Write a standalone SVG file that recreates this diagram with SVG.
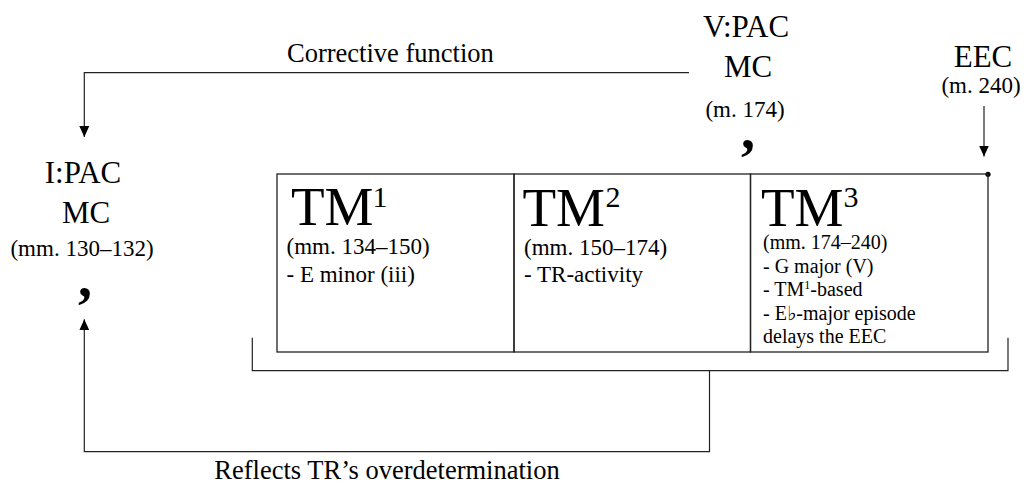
<svg xmlns="http://www.w3.org/2000/svg" width="1027" height="485" viewBox="0 0 1027 485">
<style>
text{font-family:"Liberation Serif","DejaVu Serif",serif;fill:#000}
.lab{font-size:31px;text-anchor:middle}
.ms{font-size:23px;text-anchor:middle}
.tm{font-size:55px}
.sup{font-size:30px}
.sub{font-size:23px}
.sub3{font-size:20px}
.cap{font-size:26.5px}
.brth{font-size:56px;font-weight:bold;text-anchor:middle}
.ln{fill:none;stroke:#222;stroke-width:1.2}
.box{fill:none;stroke:#222;stroke-width:1.3}
</style>
<defs>
<marker id="ah" markerUnits="userSpaceOnUse" markerWidth="12" markerHeight="12" viewBox="0 0 12 12" refX="11" refY="6" orient="auto">
<path d="M0,1 L11,6 L0,11 Z" fill="#000"/>
</marker>
</defs>

<g id="ipac">
<text class="lab" x="83" y="183">I:PAC</text>
<text class="lab" x="86" y="222.5">MC</text>
<text class="ms" x="82" y="256">(mm. 130–132)</text>
<text class="brth" x="85" y="296">,</text>
</g>

<g id="vpac">
<text class="lab" x="746" y="37">V:PAC</text>
<text class="lab" x="748" y="77">MC</text>
<text class="ms" x="745" y="117">(m. 174)</text>
<text class="brth" x="748" y="148">,</text>
</g>

<g id="eec">
<text class="lab" x="983" y="66.5">EEC</text>
<text class="ms" x="981" y="93">(m. 240)</text>
<circle cx="988" cy="174.3" r="2.6" fill="#000"/>
</g>

<g id="tm1">
<rect class="box" x="277" y="174" width="237" height="178"/>
<text class="tm" x="291" y="225">TM</text>
<text class="sup" x="372.5" y="206.5">1</text>
<text class="sub" x="286.5" y="254">(mm. 134–150)</text>
<text class="sub" x="286.5" y="282">- E minor (iii)</text>
</g>

<g id="tm2">
<rect class="box" x="514" y="174" width="236.5" height="178"/>
<text class="tm" x="522.5" y="225.5">TM</text>
<text class="sup" x="605.5" y="206.5">2</text>
<text class="sub" x="524" y="255">(mm. 150–174)</text>
<text class="sub" x="524" y="282">- TR-activity</text>
</g>

<g id="tm3">
<rect class="box" x="750.5" y="174" width="237.5" height="178"/>
<text class="tm" x="761" y="225.5">TM</text>
<text class="sup" x="843.5" y="206.5">3</text>
<text class="sub3" x="763" y="248.5">(mm. 174–240)</text>
<text class="sub3" x="763" y="272.5">- G major (V)</text>
<text class="sub3" x="763" y="296">- TM<tspan font-size="12" dy="-7">1</tspan><tspan dy="7">-based</tspan></text>
<text class="sub3" x="763" y="320">- E♭-major episode</text>
<text class="sub3" x="763" y="343">delays the EEC</text>
</g>

<g id="caption-corrective">
<text class="cap" x="287" y="62">Corrective function</text>
</g>

<g id="caption-reflects">
<text class="cap" x="387" y="479" text-anchor="middle">Reflects TR’s overdetermination</text>
</g>

<g id="connectors">
<path class="ln" d="M689,72.7 H84.3 V137" marker-end="url(#ah)"/>
<path class="ln" d="M984,106 V156.5" marker-end="url(#ah)"/>
<path class="ln" d="M252.3,337.7 V370.7 H1008 V337.7"/>
<path class="ln" d="M709.5,370.7 V451.7 H84.3 V319.3" marker-end="url(#ah)"/>
</g>
</svg>
